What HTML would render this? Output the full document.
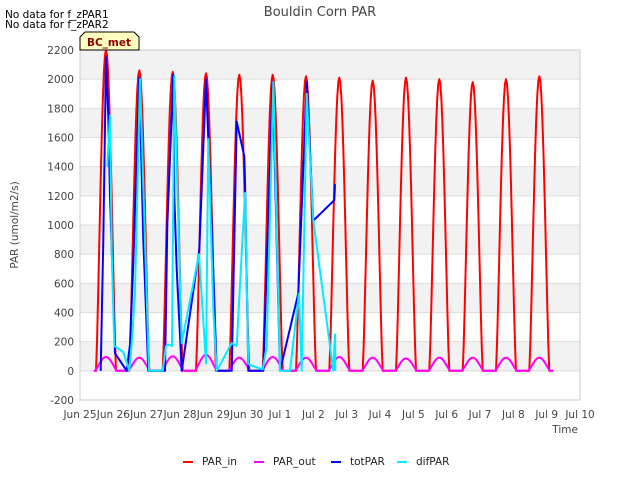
<!DOCTYPE html>
<html><head><meta charset="utf-8"><style>
body{margin:0;background:#fff;font-family:"DejaVu Sans",sans-serif}
svg text{font-family:"DejaVu Sans","Liberation Sans",sans-serif}
</style></head><body>
<svg id="c" width="640" height="480" viewBox="0 0 640 480">
<rect width="640" height="480" fill="#fff"/>
<g id="bands"></g><g id="grid"></g>
<g id="series"></g>
<rect x="80" y="50" width="500" height="350" fill="none" stroke="#ccc"/>
<g id="xt" font-size="10.5" fill="#444"></g><g id="yt" font-size="10.5" fill="#444"></g>
<text x="320" y="16" font-size="13" fill="#444" text-anchor="middle">Bouldin Corn PAR</text>
<text x="5" y="18" font-size="10.5" fill="#000">No data for f_zPAR1</text>
<text x="5" y="28" font-size="10.5" fill="#000">No data for f_zPAR2</text>
<g><path d="M80,50 L80,37 L85,32 L134,32 L139,37 L139,50 Z" fill="#ffffc0" stroke="#000"/><text x="109" y="46" font-size="10.5" font-weight="bold" fill="#8b0000" text-anchor="middle">BC_met</text></g>
<text x="18" y="225" font-size="10.5" fill="#444" text-anchor="middle" transform="rotate(-90 18 225)">PAR (umol/m2/s)</text>
<text x="578" y="433" font-size="10.5" fill="#444" text-anchor="end">Time</text>
<g id="legend" font-size="10.5" fill="#222"></g>
</svg>
<script>
const xLabels=["Jun 25","Jun 26","Jun 27","Jun 28","Jun 29","Jun 30","Jul 1","Jul 2","Jul 3","Jul 4","Jul 5","Jul 6","Jul 7","Jul 8","Jul 9","Jul 10"];
const yTicks=[-200,0,200,400,600,800,1000,1200,1400,1600,1800,2000,2200];
const parInPeaks=[2200,2060,2050,2040,2030,2030,2020,2010,1990,2010,2000,1980,2000,2020];
const parOutPeaks=[95,90,100,110,90,95,90,95,90,85,90,90,90,90];
const totT=[0.62,0.7,0.78,0.83,0.85,0.9,1.05,1.4,1.5,1.6,1.78,1.9,2.05,2.55,2.62,2.8,2.83,2.9,3.05,3.58,3.78,3.98,4.1,4.55,4.7,4.93,4.95,5.05,5.5,5.78,6.0,6.55,6.8,7.0,7.63,7.65];
const totV=[0,900,2150,1840,1750,1200,120,0,180,740,2010,900,0,0,1000,2030,1200,700,0,830,2000,800,0,0,1710,1470,1300,0,0,1980,0,530,1980,1030,1170,1280];
const difT=[0.82,0.9,0.95,1.03,1.3,1.48,1.55,1.65,1.8,2.07,2.48,2.58,2.65,2.76,2.83,3.05,3.57,3.78,3.85,4.0,4.1,4.55,4.7,4.95,5.05,5.1,5.48,5.6,5.8,6.0,6.3,6.57,6.65,6.8,7.0,7.6,7.65,7.66];
const difV=[1400,1750,830,170,130,0,190,530,2000,0,0,170,180,170,2020,190,800,50,1590,420,0,190,170,1220,50,40,10,170,1980,0,0,530,0,1900,1030,0,250,0];
const X=t=>80+t*500/15, Y=v=>50+(2200-v)*350/2400;
const ns="http://www.w3.org/2000/svg";
function mk(tag,at,parent){const e=document.createElementNS(ns,tag);for(const k in at)e.setAttribute(k,at[k]);document.getElementById(parent).appendChild(e);return e;}
for(let i=0;i<yTicks.length-1;i++){ if(i%2==1){const b=mk('rect',{x:80,y:Y(yTicks[i+1]),width:500,height:Y(yTicks[i])-Y(yTicks[i+1]),fill:'#f2f2f2'},'bands');

}}
yTicks.forEach(v=>{const l=mk('line',{x1:80,x2:580,y1:Y(v),y2:Y(v),stroke:'#ddd'},'grid');


const t=mk('text',{x:74,y:Y(v)+4,'text-anchor':'end'},'yt');t.textContent=v;

});
xLabels.forEach((s,i)=>{const t=mk('text',{x:X(i),y:418,'text-anchor':'middle'},'xt');t.textContent=s;

});
function daily(peaks,half){const pts=[[0.5,0]];peaks.forEach((p,i)=>{const c=i+0.78;pts.push([c-half-0.02,0]);for(let k=-10;k<=10;k++){const f=Math.cos(k/10*Math.PI/2);pts.push([c+k/10*half,p*Math.pow(f,1.3)]);}pts.push([c+half+0.02,0]);});pts.push([14.2,0]);return pts;}
function line(pts,color,name,w){const p=mk('polyline',{points:pts.map(q=>X(q[0]).toFixed(1)+','+Y(q[1]).toFixed(1)).join(' '),fill:'none',stroke:color,'stroke-width':w,'stroke-linejoin':'round'},'series');

}
line(daily(parInPeaks,0.3),'#ff0000','par-in-line',2);
line(daily(parOutPeaks,0.33),'#ff00ff','par-out-line',2);
line(totT.map((t,i)=>[t,totV[i]]),'#0000ff','totpar-line',2);
line(difT.map((t,i)=>[t,difV[i]]),'#00eeff','difpar-line',2);
const legNames=["PAR_in","PAR_out","totPAR","difPAR"],legCols=["#ff0000","#ff00ff","#0000ff","#00eeff"],legX=[183,254,331,397];
legNames.forEach((n,i)=>{const g=mk('g',{},'legend');


const l=document.createElementNS(ns,'line');l.setAttribute('x1',legX[i]);l.setAttribute('x2',legX[i]+10);l.setAttribute('y1',462);l.setAttribute('y2',462);l.setAttribute('stroke',legCols[i]);l.setAttribute('stroke-width',2);g.appendChild(l);
const t=document.createElementNS(ns,'text');t.setAttribute('x',legX[i]+19);t.setAttribute('y',465);t.textContent=n;g.appendChild(t);});
</script>
</body></html>
